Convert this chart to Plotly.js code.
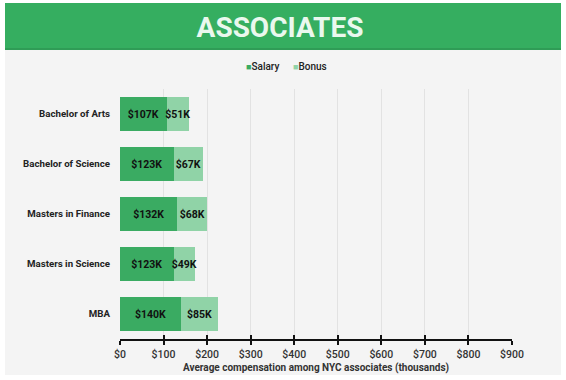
<!DOCTYPE html>
<html><head><meta charset="utf-8">
<script src="https://cdn.plot.ly/plotly-3.0.1.min.js"></script>
<style>html,body{margin:0;padding:0;background:#fff;}#chart{width:566px;height:380px;}</style>
</head><body><div id="chart"></div>
<script>
const categories = ["Bachelor of Arts", "Bachelor of Science", "Masters in Finance", "Masters in Science", "MBA"];
const salary = [107, 123, 132, 123, 140];
const bonus = [51, 67, 68, 49, 85];
const seriesNames = ["Salary", "Bonus"];
const tickVals = [0, 100, 200, 300, 400, 500, 600, 700, 800, 900];
const tickText = tickVals.map(v => "$" + v);

const L = 120, R = 54, T = 89, B = 41, W = 566, H = 380;
const pw = W - L - R, ph = H - T - B;
const px = p => (p - L) / pw;
const py = p => (H - B - p) / ph;
const FONT = "Roboto, 'Noto Sans', sans-serif";
const colors = ["#3aab62", "#90d3a7"];
const legendLeft = [244, 291];

const labelFont = {family: FONT, size: 10.5, color: "#111", weight: "bold"};

const traces = [
  {type: "bar", orientation: "h", name: seriesNames[0], y: categories, x: salary,
   text: salary.map(v => "$" + v + "K"), textposition: "inside", insidetextanchor: "middle",
   textangle: 0, constraintext: "none", cliponaxis: false,
   textfont: labelFont, marker: {color: colors[0]}, width: 0.68, hoverinfo: "none"},
  {type: "bar", orientation: "h", name: seriesNames[1], y: categories, x: bonus,
   text: bonus.map(v => "$" + v + "K"), textposition: "inside", insidetextanchor: "middle",
   textangle: 0, constraintext: "none", cliponaxis: false,
   textfont: labelFont, marker: {color: colors[1]}, width: 0.68, hoverinfo: "none"},
  {type: "scatter", x: [0], y: [categories[0]], xaxis: "x2", mode: "markers",
   marker: {opacity: 0}, showlegend: false, hoverinfo: "none"}
];

const legendAnns = seriesNames.map((n, i) => ({
  text: '<span style="color:' + colors[i] + ';font-size:9px">■</span>' + n,
  xref: "paper", yref: "paper", x: px(legendLeft[i]), y: py(67),
  xanchor: "left", yanchor: "middle", showarrow: false,
  font: {family: FONT, size: 10, color: "#222", weight: 500}
}));

const layout = {
  width: W, height: H,
  margin: {l: L, r: R, t: T, b: B},
  paper_bgcolor: "#ffffff",
  plot_bgcolor: "rgba(0,0,0,0)",
  barmode: "stack",
  showlegend: false,
  title: {text: "ASSOCIATES", x: 280 / W, xref: "container", xanchor: "center",
          y: 1 - 27 / H, yref: "container", yanchor: "middle",
          font: {family: FONT, size: 28, color: "#eaf8ee", weight: "bold"}},
  annotations: legendAnns,
  xaxis: {range: [0, 900], tickvals: tickVals, ticktext: tickText,
          showgrid: true, gridcolor: "#e2e2e2", gridwidth: 1,
          showline: true, linecolor: "#111", linewidth: 2,
          ticks: "outside", ticklen: 4, tickwidth: 2, tickcolor: "#111",
          zeroline: false, fixedrange: true,
          tickfont: {family: FONT, size: 10.5, color: "#333", weight: 500},
          title: {text: "Average compensation among NYC associates (thousands)", standoff: 4,
                  font: {family: FONT, size: 10, color: "#333", weight: "bold"}}},
  xaxis2: {overlaying: "x", matches: "x", side: "bottom", anchor: "y", tickvals: tickVals,
           showticklabels: false, ticks: "inside", ticklen: 4, tickwidth: 2, tickcolor: "#111",
           showgrid: false, zeroline: false, showline: false},
  yaxis: {type: "category", categoryorder: "array", categoryarray: categories.slice().reverse(),
          range: [-0.5, 4.5], showgrid: false, zeroline: false, showline: false, ticks: "",
          ticklabelstandoff: 9,
          tickfont: {family: FONT, size: 9.7, color: "#222", weight: "bold"}},
  shapes: [
    {type: "rect", xref: "paper", yref: "paper", x0: px(5), x1: px(561), y0: py(375), y1: py(49),
     fillcolor: "#f4f4f4", line: {width: 0}, layer: "below"},
    {type: "rect", xref: "paper", yref: "paper", x0: px(5), x1: px(561), y0: py(48), y1: py(3),
     fillcolor: "#35ae60", line: {width: 0}, layer: "below"},
    {type: "rect", xref: "paper", yref: "paper", x0: px(5), x1: px(561), y0: py(50), y1: py(48),
     fillcolor: "#2f9c56", line: {width: 0}, layer: "below"}
  ]
};

Plotly.newPlot("chart", traces, layout, {staticPlot: true, displayModeBar: false});
</script></body></html>
